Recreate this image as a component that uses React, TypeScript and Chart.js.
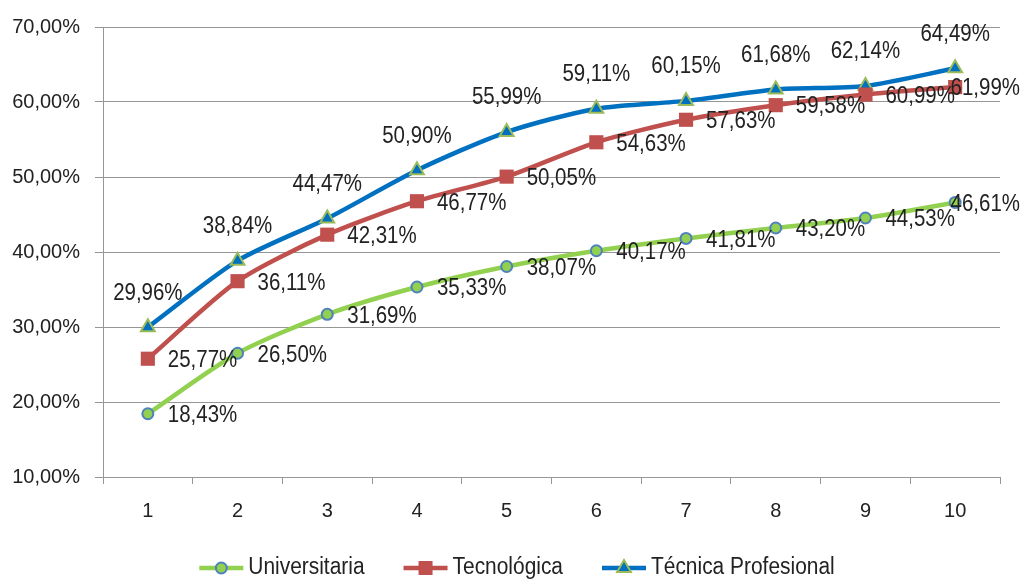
import React, { useEffect, useRef } from 'react';
import { Chart, registerables } from 'chart.js';

Chart.register(...registerables);

const categories = ['1', '2', '3', '4', '5', '6', '7', '8', '9', '10'];
const seriesNames = ['Universitaria', 'Tecnológica', 'Técnica Profesional'];
const universitaria = [18.43, 26.5, 31.69, 35.33, 38.07, 40.17, 41.81, 43.2, 44.53, 46.61];
const tecnologica = [25.77, 36.11, 42.31, 46.77, 50.05, 54.63, 57.63, 59.58, 60.99, 61.99];
const tecnicaProfesional = [29.96, 38.84, 44.47, 50.9, 55.99, 59.11, 60.15, 61.68, 62.14, 64.49];
const yMin = 10;
const yMax = 70;
const yStep = 10;

const FONT_FAMILY = '"Liberation Sans", Arial, sans-serif';
const TEXT_COLOR = '#222222';
const GRID_COLOR = '#969696';
const TEXT_SQUEEZE = 0.89;

const GREEN = '#92D050';
const GREEN_DARK = '#9BBB59';
const RED = '#C0504D';
const BLUE = '#0070C0';
const MARKER_BLUE = '#4F81BD';

const fmt = (v: number) => v.toFixed(2).replace('.', ',') + '%';

type MarkerKind = 'circle' | 'rect' | 'triangle';

function drawMarker(ctx: CanvasRenderingContext2D, kind: MarkerKind, x: number, y: number) {
  ctx.save();
  ctx.beginPath();
  if (kind === 'circle') {
    ctx.arc(x, y, 5.5, 0, Math.PI * 2);
    ctx.fillStyle = GREEN;
    ctx.strokeStyle = MARKER_BLUE;
    ctx.lineWidth = 2;
    ctx.fill();
    ctx.stroke();
  } else if (kind === 'rect') {
    ctx.rect(x - 7, y - 7, 14, 14);
    ctx.fillStyle = RED;
    ctx.fill();
  } else {
    const r = 8;
    ctx.moveTo(x, y - r);
    ctx.lineTo(x + r * 0.866, y + r * 0.5);
    ctx.lineTo(x - r * 0.866, y + r * 0.5);
    ctx.closePath();
    ctx.fillStyle = BLUE;
    ctx.strokeStyle = GREEN_DARK;
    ctx.lineWidth = 2;
    ctx.fill();
    ctx.stroke();
  }
  ctx.restore();
}

function squeezedText(ctx: CanvasRenderingContext2D, text: string, x: number, y: number) {
  ctx.save();
  ctx.translate(x, y);
  ctx.scale(TEXT_SQUEEZE, 1);
  ctx.fillText(text, 0, 0);
  ctx.restore();
}

const legendItems: { name: string; color: string; kind: MarkerKind }[] = [
  { name: seriesNames[0], color: GREEN, kind: 'circle' },
  { name: seriesNames[1], color: RED, kind: 'rect' },
  { name: seriesNames[2], color: BLUE, kind: 'triangle' },
];

const valueLabelPlugin = {
  id: 'valueLabels',
  afterDatasetsDraw(chart: any) {
    const ctx: CanvasRenderingContext2D = chart.ctx;
    ctx.save();
    ctx.font = `23px ${FONT_FAMILY}`;
    ctx.fillStyle = TEXT_COLOR;
    ctx.textBaseline = 'middle';
    chart.data.datasets.forEach((ds: any, i: number) => {
      const meta = chart.getDatasetMeta(i);
      meta.data.forEach((pt: any, j: number) => {
        const text = fmt(ds.data[j]);
        const w = ctx.measureText(text).width * TEXT_SQUEEZE;
        if (ds.labelPosition === 'above') {
          ctx.textAlign = 'center';
          squeezedText(ctx, text, pt.x, pt.y - 34);
        } else {
          let x = pt.x + 20;
          if (x + w > chart.width - 2) x = chart.width - 2 - w;
          ctx.textAlign = 'left';
          squeezedText(ctx, text, x, pt.y + 2);
        }
      });
    });
    ctx.restore();
  },
};

const legendPlugin = {
  id: 'lineLegend',
  afterDraw(chart: any) {
    const ctx: CanvasRenderingContext2D = chart.ctx;
    ctx.save();
    ctx.font = `23.5px ${FONT_FAMILY}`;
    const iconW = 44;
    const gapIcon = 5;
    const gapItem = 39;
    const widths = legendItems.map((it) => ctx.measureText(it.name).width * TEXT_SQUEEZE);
    const total = widths.reduce((a, b) => a + b, 0) + legendItems.length * (iconW + gapIcon) + gapItem * (legendItems.length - 1);
    let x = chart.width / 2 + 6 - total / 2;
    const y = 568;
    legendItems.forEach((it, i) => {
      ctx.beginPath();
      ctx.moveTo(x, y);
      ctx.lineTo(x + iconW, y);
      ctx.strokeStyle = it.color;
      ctx.lineWidth = 4.5;
      ctx.stroke();
      drawMarker(ctx, it.kind, x + iconW / 2, y);
      ctx.fillStyle = TEXT_COLOR;
      ctx.textAlign = 'left';
      ctx.textBaseline = 'middle';
      squeezedText(ctx, it.name, x + iconW + gapIcon, y);
      x += iconW + gapIcon + widths[i] + gapItem;
    });
    ctx.restore();
  },
};

export default function App() {
  const canvasRef = useRef<HTMLCanvasElement | null>(null);

  useEffect(() => {
    const canvas = canvasRef.current;
    if (!canvas) return;
    const chart = new Chart(canvas, {
      type: 'line',
      data: {
        labels: categories,
        datasets: [
          {
            label: seriesNames[0],
            data: universitaria,
            borderColor: GREEN,
            borderWidth: 4.5,
            tension: 0.25,
            pointStyle: 'circle',
            pointRadius: 5.5,
            pointBorderWidth: 2,
            pointBackgroundColor: GREEN,
            pointBorderColor: MARKER_BLUE,
            labelPosition: 'right',
          } as any,
          {
            label: seriesNames[1],
            data: tecnologica,
            borderColor: RED,
            borderWidth: 4.5,
            tension: 0.25,
            pointStyle: 'rect',
            pointRadius: 10,
            pointBorderWidth: 0,
            pointBackgroundColor: RED,
            pointBorderColor: RED,
            labelPosition: 'right',
          } as any,
          {
            label: seriesNames[2],
            data: tecnicaProfesional,
            borderColor: BLUE,
            borderWidth: 4.5,
            tension: 0.25,
            pointStyle: 'triangle',
            pointRadius: 8,
            pointBorderWidth: 2,
            pointBackgroundColor: BLUE,
            pointBorderColor: GREEN_DARK,
            labelPosition: 'above',
          } as any,
        ],
      },
      options: {
        animation: false,
        responsive: true,
        maintainAspectRatio: false,
        layout: { padding: { top: 27, right: 22, left: 0, bottom: 0 } },
        plugins: {
          legend: { display: false },
          tooltip: { enabled: false },
        },
        scales: {
          x: {
            offset: true,
            grid: { offset: true, drawOnChartArea: false, drawTicks: true, tickLength: 7, color: GRID_COLOR },
            border: { color: GRID_COLOR, width: 1 },
            ticks: { padding: 15, color: TEXT_COLOR, font: { size: 20, family: FONT_FAMILY } },
            afterFit: (s: any) => {
              s.height = 103;
            },
          },
          y: {
            min: yMin,
            max: yMax,
            ticks: {
              stepSize: yStep,
              padding: 15,
              color: TEXT_COLOR,
              font: { size: 20, family: FONT_FAMILY },
              callback: (v: any) => fmt(Number(v)),
            },
            grid: { color: GRID_COLOR, tickLength: 8, drawTicks: true },
            border: { color: GRID_COLOR, width: 1 },
            afterFit: (s: any) => {
              s.width = 103;
            },
          },
        },
      },
      plugins: [valueLabelPlugin, legendPlugin],
    });
    return () => chart.destroy();
  }, []);

  return (
    <div style={{ position: 'fixed', left: 0, top: 0, width: 1022, height: 580, background: '#ffffff' }}>
      <canvas ref={canvasRef} />
    </div>
  );
}
